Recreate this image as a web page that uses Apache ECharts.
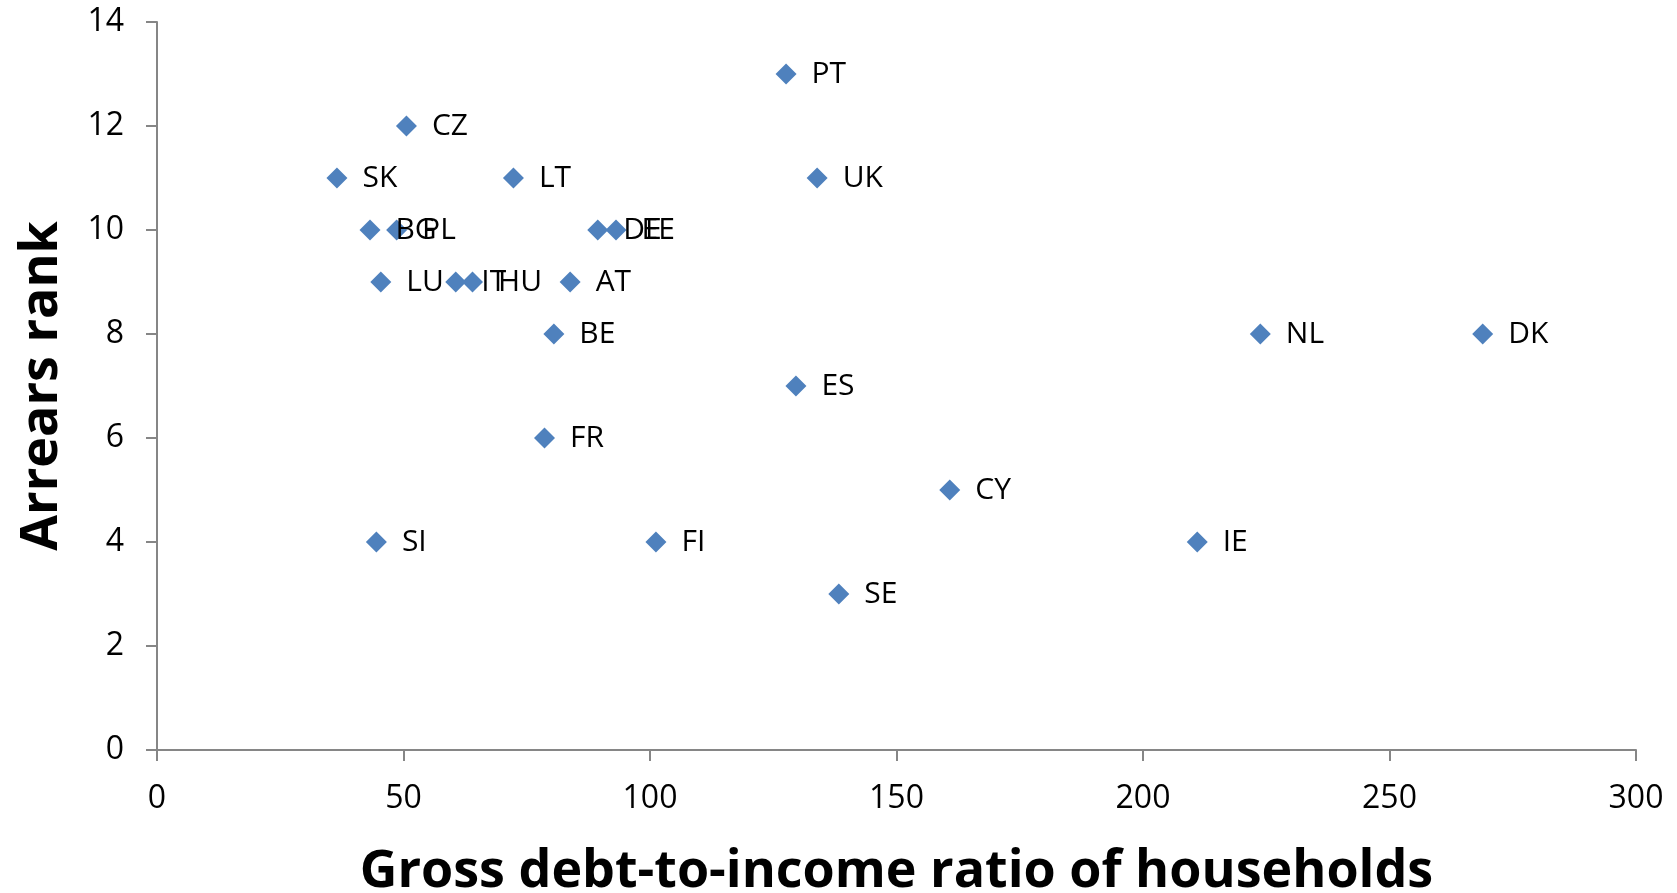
<!DOCTYPE html>
<html style="height: 100%; width: 100%;">
<head>
    <meta charset="utf-8">
    <title>Arrears rank vs gross debt-to-income ratio</title>
</head>
<body style="height: 100%; margin: 0; width: 100%; background: #fff;">
    <div id="chartContainer" style="width: 1677px; height: 893px;"></div>

    <script type="text/javascript" src="https://cdn.jsdelivr.net/npm/echarts@6/dist/echarts.min.js"></script>
    <script type="text/javascript">
        // values
        var countries = ['PT', 'CZ', 'SK', 'LT', 'UK', 'BG', 'PL', 'DE', 'EE', 'LU', 'IT', 'HU',
            'AT', 'BE', 'NL', 'DK', 'ES', 'FR', 'CY', 'SI', 'FI', 'IE', 'SE'];
        var debtRatio = [127.6, 50.6, 36.5, 72.3, 133.9, 43.2, 48.6, 89.4, 93.1, 45.4, 60.6, 64.0,
            83.8, 80.5, 223.8, 268.9, 129.6, 78.6, 160.8, 44.5, 101.2, 211.0, 138.3];
        var arrearsRank = [13, 12, 11, 11, 11, 10, 10, 10, 10, 9, 9, 9,
            9, 8, 8, 8, 7, 6, 5, 4, 4, 4, 3];

        var font = '"Open Sans", "Noto Sans", sans-serif';

        var dom = document.getElementById("chartContainer");
        var myChart = echarts.init(dom);

        var points = countries.map(function (c, i) {
            return { name: c, value: [debtRatio[i], arrearsRank[i]] };
        });

        var option = {
            animation: false,
            grid: {
                left: 157,
                right: 41,
                top: 22,
                bottom: 143,
                outerBoundsMode: 'none'
            },
            xAxis: {
                type: 'value',
                min: 0,
                max: 300,
                interval: 50,
                name: 'Gross debt-to-income ratio of households',
                nameLocation: 'middle',
                nameGap: 96,
                nameTextStyle: {
                    fontFamily: font,
                    fontWeight: 'bold',
                    fontSize: 52,
                    color: '#000'
                },
                axisLine: { lineStyle: { color: '#868686', width: 2 } },
                axisTick: { show: true, length: 11, lineStyle: { color: '#868686', width: 2 } },
                splitLine: { show: false },
                axisLabel: {
                    margin: 33,
                    fontFamily: font,
                    fontSize: 32,
                    color: '#000'
                }
            },
            yAxis: {
                type: 'value',
                min: 0,
                max: 14,
                interval: 2,
                name: 'Arrears rank',
                nameLocation: 'middle',
                nameGap: 89,
                nameTextStyle: {
                    fontFamily: font,
                    fontWeight: 'bold',
                    fontSize: 52,
                    color: '#000'
                },
                axisLine: { show: true, lineStyle: { color: '#868686', width: 2 } },
                axisTick: { show: true, length: 11, lineStyle: { color: '#868686', width: 2 } },
                splitLine: { show: false },
                axisLabel: {
                    margin: 33,
                    fontFamily: font,
                    fontSize: 32,
                    color: '#000'
                }
            },
            series: [
                {
                    type: 'scatter',
                    data: points,
                    symbol: 'diamond',
                    symbolSize: [21, 21],
                    itemStyle: { color: '#4F81BD', opacity: 1 },
                    label: {
                        show: true,
                        position: 'right',
                        distance: 15,
                        formatter: '{b}',
                        fontFamily: font,
                        fontSize: 30,
                        color: '#000'
                    }
                }
            ]
        };

        myChart.setOption(option);
    </script>
</body>
</html>
